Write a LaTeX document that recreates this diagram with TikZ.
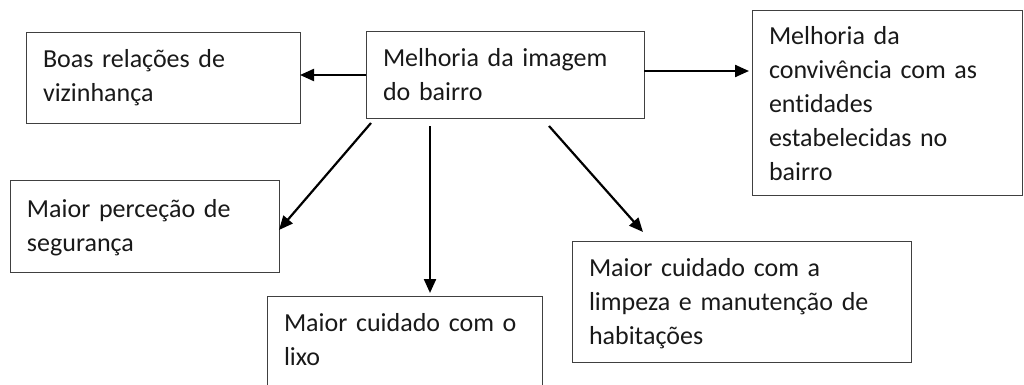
\documentclass[tikz,border=0pt]{standalone}
\usepackage{fontspec}
\setmainfont[Ligatures=NoCommon]{Carlito}
\usetikzlibrary{arrows.meta}

\tikzstyle{box}=[draw=black!75,line width=1pt,anchor=north west,outer sep=0pt,align=left,inner xsep=17pt,inner ysep=0pt,text=black!90,font=\fontsize{26}{34}\selectfont]
\tikzstyle{link}=[line width=2.2pt,-{Triangle[length=14pt,width=12pt]}]

\begin{document}
\begin{tikzpicture}[x=1pt,y=-1pt]
       \useasboundingbox (0,0) rectangle (1024,385);
       \foreach \pos/\name/\tw/\th/\td/\txt in {{(26,33)/boas/240/35/55/Boas relações de\\vizinhança}, {(366,32)/img/244/35/51/Melhoria da imagem\\do bairro}, {(752,11)/conv/236/34/150/Melhoria da\\convivência com as\\entidades\\estabelecidas no\\bairro}, {(10,180)/perc/235/37/55/Maior perceção de\\segurança}, {(267,296)/lixo/241/35/80/Maior cuidado com o\\lixo}, {(572,241)/limp/305/35/86/Maior cuidado com a\\limpeza e manutenção de\\habitações}} {
           \node[box,text width=\tw pt,text height=\th pt,text depth=\td pt] (\name) at \pos {\txt};
       }

       \draw[link] (img.west) -- (img.west -| boas.east);
       \draw[link,shorten >=3pt] ([yshift=4pt]img.east) -- ([yshift=4pt]img.east -| conv.west);
       \draw[link] ([xshift=5pt,yshift=-5pt]img.south west) -- ([yshift=-4pt]perc.east);
       \draw[link,shorten >=3pt] ([xshift=64pt,yshift=-8pt]img.south west) -- ([xshift=64pt]img.south west |- lixo.north);
       \draw[link] ([xshift=-95pt,yshift=-8pt]img.south east) -- ([xshift=71pt,yshift=9pt]limp.north west);
\end{tikzpicture}
\end{document}
